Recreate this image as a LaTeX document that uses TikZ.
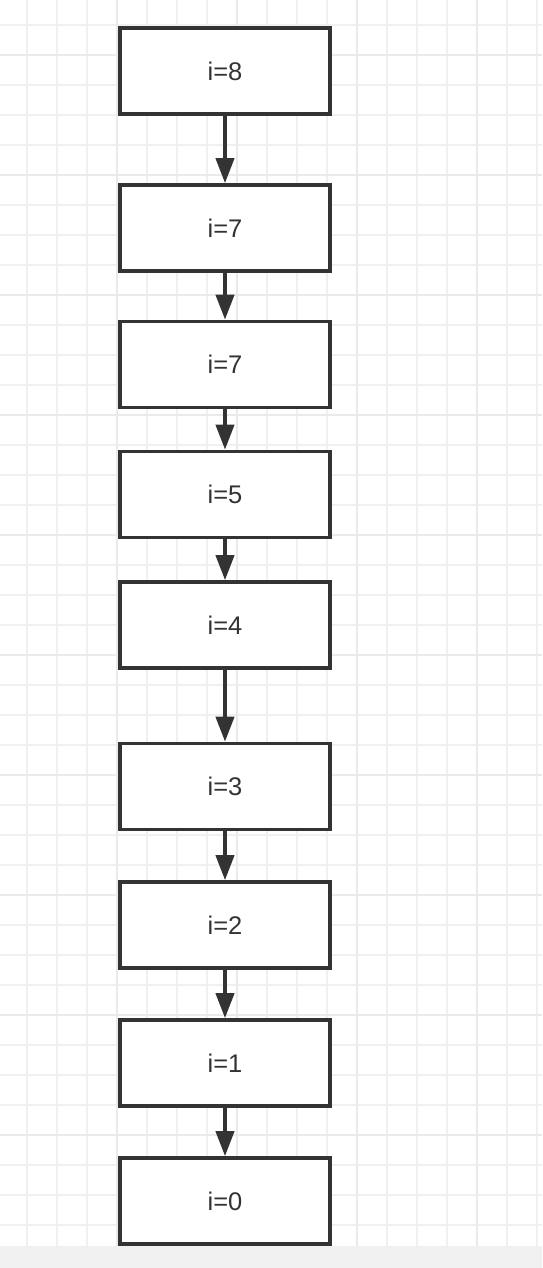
\documentclass[tikz,border=0pt]{standalone}
\usepackage{fontspec}
\setmainfont{Liberation Sans}
\usetikzlibrary{arrows.meta}
\definecolor{ink}{HTML}{333333}
\definecolor{gridminor}{HTML}{F0F0F0}
\definecolor{gridmajor}{HTML}{EAEAEA}
\definecolor{bandgray}{HTML}{F0F0F0}
\tikzset{
  stepbox/.style={draw=ink, line width=3.6pt, fill=white, minimum width=210pt, minimum height=86pt, inner sep=0pt, text=ink, font=\fontsize{25.5}{30}\selectfont},
  arr/.style={draw=ink, line width=4pt, -{Triangle[width=18pt,length=25pt]}},
  gminor/.style={draw=gridminor, line width=1.2pt},
  gmajor/.style={draw=gridmajor, line width=1.3pt}
}
\begin{document}
\begin{tikzpicture}[x=1pt, y=-1pt]
\useasboundingbox (0,0) rectangle (542,1268);
\fill[white] (0,0) rectangle (542,1246);
\foreach \x in {27,57,...,537} \draw[gminor] (\x,0) -- (\x,1246);
\foreach \y in {25,55,...,1225} \draw[gminor] (0,\y) -- (542,\y);
\foreach \x in {117,237,357,477} \draw[gmajor] (\x,0) -- (\x,1246);
\foreach \y in {55,175,...,1135} \draw[gmajor] (0,\y) -- (542,\y);
\fill[bandgray] (0,1246) rectangle (542,1268);

\node[stepbox] (n8) at (225,71) {i=8};
\node[stepbox] (n7a) at (225,228) {i=7};
\node[stepbox] (n7b) at (225,364.5) {i=7};
\node[stepbox] (n5) at (225,494.5) {i=5};
\node[stepbox] (n4) at (225,625) {i=4};
\node[stepbox] (n3) at (225,786.5) {i=3};
\node[stepbox] (n2) at (225,925) {i=2};
\node[stepbox] (n1) at (225,1063) {i=1};
\node[stepbox] (n0) at (225,1201) {i=0};

\draw[arr] (n8.south) -- (n7a.north);
\draw[arr] (n7a.south) -- (n7b.north);
\draw[arr] (n7b.south) -- (n5.north);
\draw[arr] (n5.south) -- (n4.north);
\draw[arr] (n4.south) -- (n3.north);
\draw[arr] (n3.south) -- (n2.north);
\draw[arr] (n2.south) -- (n1.north);
\draw[arr] (n1.south) -- (n0.north);
\end{tikzpicture}
\end{document}
